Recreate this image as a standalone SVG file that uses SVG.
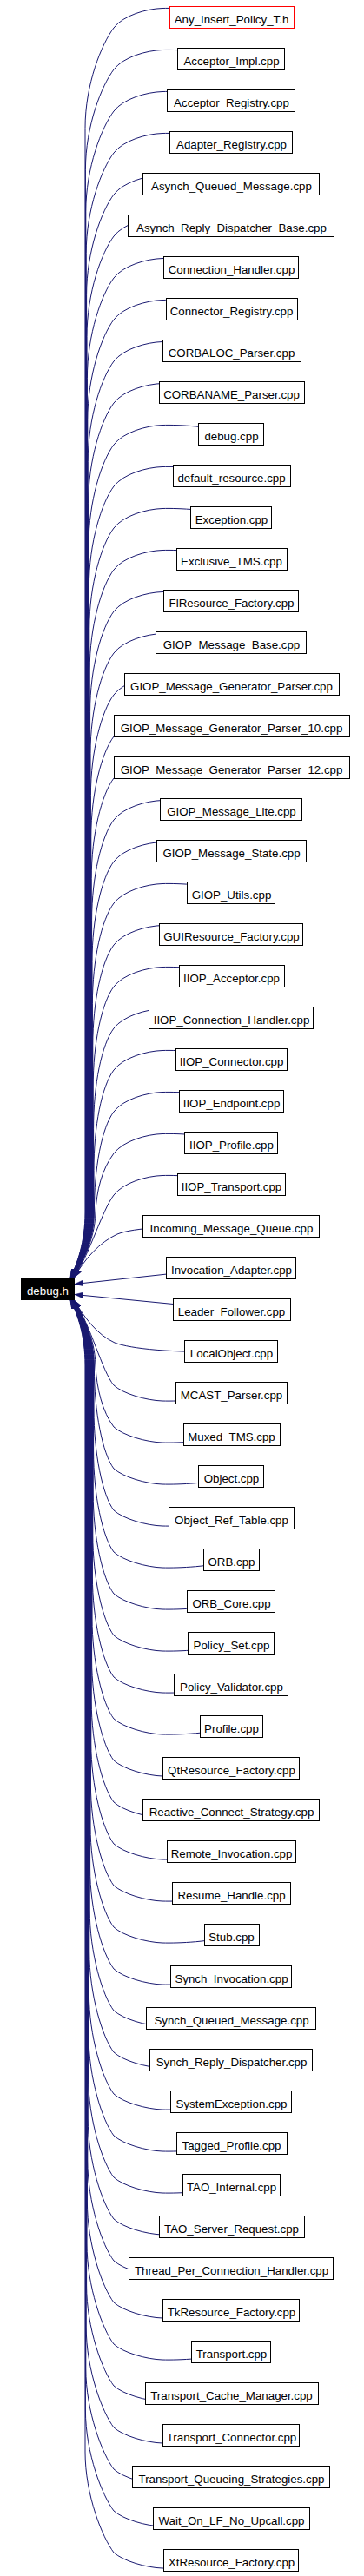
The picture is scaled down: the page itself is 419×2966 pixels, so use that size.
<svg xmlns="http://www.w3.org/2000/svg" width="419" height="2966" viewBox="0 0 419 2966">
<defs>
<style>
.e path{fill:none;stroke:#191970;stroke-width:1;marker-end:url(#ah)}
.n rect{fill:#fff;stroke:#000;stroke-width:1}
.n text{font-family:"Liberation Sans",Arial,Helvetica,sans-serif;font-size:13.3px;text-anchor:middle;fill:#000}
.n.red rect{stroke:#f00}
.n.main rect{fill:#000}
.n.main text{fill:#fff}
</style>
<marker id="ah" viewBox="0 0 10 7" refX="10" refY="3.5" markerWidth="10" markerHeight="7" markerUnits="userSpaceOnUse" orient="auto">
<path d="M0,0L10,3.5L0,7z" fill="#191970" stroke="#191970" stroke-width="0.5"/>
</marker>
</defs>
<rect width="419" height="2966" fill="#fff"/>
<g id="edges" class="e">
<path d="M266.5,20c-21.5,-9.5 -61.5,-11 -79.5,-10.5c-18,0.5 -45,8 -56,22.5c-14,18.5 -33,65 -33,115.5V1396C98,1430 89,1455 81,1471"/>
<path d="M266.5,68c-21.5,-9.5 -61.5,-11 -79.5,-10.5c-18,0.5 -45,8 -56,22.5c-14,18.5 -32.6,65 -32.6,115.5V1396C98.4,1430 89.2,1455 81.2,1471"/>
<path d="M266.5,116c-21.5,-9.5 -61.5,-11 -79.5,-10.5c-18,0.5 -45,8 -56,22.5c-14,18.5 -32.2,65 -32.2,115.5V1396C98.8,1430 89.3,1455 81.3,1471"/>
<path d="M266.5,164c-21.5,-9.5 -61.5,-11 -79.5,-10.5c-18,0.5 -45,8 -56,22.5c-14,18.5 -31.8,65 -31.8,115.5V1396C99.2,1430 89.5,1455 81.5,1471"/>
<path d="M266.5,212c-21.5,-9.5 -61.5,-11 -79.5,-10.5c-18,0.5 -45,8 -56,22.5c-14,18.5 -31.4,65 -31.4,115.5V1396C99.6,1430 89.6,1455 81.6,1471"/>
<path d="M266.5,260c-21.5,-9.5 -61.5,-11 -79.5,-10.5c-18,0.5 -45,8 -56,22.5c-14,18.5 -31,65 -31,115.5V1396C100,1430 89.8,1455 81.8,1471"/>
<path d="M266.5,308c-21.5,-9.5 -61.5,-11 -79.5,-10.5c-18,0.5 -45,8 -56,22.5c-14,18.5 -30.6,65 -30.6,115.5V1396C100.4,1430 89.9,1455 81.9,1471"/>
<path d="M266.5,356c-21.5,-9.5 -61.5,-11 -79.5,-10.5c-18,0.5 -45,8 -56,22.5c-14,18.5 -30.2,65 -30.2,115.5V1396C100.8,1430 90.1,1455 82.1,1471"/>
<path d="M266.5,404c-21.5,-9.5 -61.5,-11 -79.5,-10.5c-18,0.5 -45,8 -56,22.5c-14,18.5 -29.8,65 -29.8,115.5V1396C101.2,1430 90.2,1455 82.2,1471"/>
<path d="M266.5,452c-21.5,-9.5 -61.5,-11 -79.5,-10.5c-18,0.5 -45,8 -56,22.5c-14,18.5 -29.4,65 -29.4,115.5V1396C101.6,1430 90.4,1455 82.4,1471"/>
<path d="M266.5,500c-21.5,-9.5 -61.5,-11 -79.5,-10.5c-18,0.5 -45,8 -56,22.5c-14,18.5 -29,65 -29,115.5V1396C102,1430 90.5,1455 82.5,1471"/>
<path d="M266.5,548c-21.5,-9.5 -61.5,-11 -79.5,-10.5c-18,0.5 -45,8 -56,22.5c-14,18.5 -28.6,65 -28.6,115.5V1396C102.4,1430 90.7,1455 82.7,1471"/>
<path d="M266.5,596c-21.5,-9.5 -61.5,-11 -79.5,-10.5c-18,0.5 -45,8 -56,22.5c-14,18.5 -28.2,65 -28.2,115.5V1396C102.8,1430 90.8,1455 82.8,1471"/>
<path d="M266.5,644c-21.5,-9.5 -61.5,-11 -79.5,-10.5c-18,0.5 -45,8 -56,22.5c-14,18.5 -27.8,65 -27.8,115.5V1396C103.2,1430 91,1455 83,1471"/>
<path d="M266.5,692c-21.5,-9.5 -61.5,-11 -79.5,-10.5c-18,0.5 -45,8 -56,22.5c-14,18.5 -27.4,65 -27.4,115.5V1396C103.6,1430 91.1,1455 83.1,1471"/>
<path d="M266.5,740c-21.5,-9.5 -61.5,-11 -79.5,-10.5c-18,0.5 -45,8 -56,22.5c-14,18.5 -27,65 -27,115.5V1396C104,1430 91.3,1455 83.3,1471"/>
<path d="M266.5,788c-21.5,-9.5 -61.5,-11 -79.5,-10.5c-18,0.5 -45,8 -56,22.5c-14,18.5 -26.6,65 -26.6,115.5V1396C104.4,1430 91.4,1455 83.4,1471"/>
<path d="M266.5,836c-21.5,-9.5 -61.5,-11 -79.5,-10.5c-18,0.5 -45,8 -56,22.5c-14,18.5 -26.2,65 -26.2,115.5V1396C104.8,1430 91.6,1455 83.6,1471"/>
<path d="M266.5,884c-21.5,-9.5 -61.5,-11 -79.5,-10.5c-18,0.5 -45,8 -56,22.5c-14,18.5 -25.8,65 -25.8,115.5V1396C105.2,1430 91.7,1455 83.7,1471"/>
<path d="M266.5,932c-21.5,-9.5 -61.5,-11 -79.5,-10.5c-18,0.5 -45,8 -56,22.5c-14,18.5 -25.4,65 -25.4,115.5V1396C105.6,1430 91.9,1455 83.9,1471"/>
<path d="M266.5,980c-21.5,-9.5 -61.5,-11 -79.5,-10.5c-18,0.5 -45,8 -56,22.5c-14,18.5 -25,65 -25,115.5V1396C106,1430 92,1455 84,1471"/>
<path d="M266.5,1028c-21.5,-9.5 -61.5,-11 -79.5,-10.5c-18,0.5 -45,8 -56,22.5c-14,18.5 -24.6,65 -24.6,115.5V1396C106.4,1430 92.2,1455 84.2,1471"/>
<path d="M266.5,1076c-21.5,-9.5 -61.5,-11 -79.5,-10.5c-18,0.5 -45,8 -56,22.5c-14,18.5 -24.2,65 -24.2,115.5V1396C106.8,1430 92.3,1455 84.3,1471"/>
<path d="M266.5,1124c-21.5,-9.5 -61.5,-11 -79.5,-10.5c-18,0.5 -45,8 -56,22.5c-14,18.5 -23.8,65 -23.8,115.5V1396C107.2,1430 92.5,1455 84.5,1471"/>
<path d="M266.5,1172c-21.5,-9.5 -61.5,-11 -79.5,-10.5c-18,0.5 -45,8 -56,22.5c-14,18.5 -23.4,65 -23.4,115.5V1396C107.6,1430 92.6,1455 84.6,1471"/>
<path d="M266.5,1220c-21.5,-9.5 -61.5,-11 -79.5,-10.5c-18,0.5 -45,8 -56,22.5c-14,18.5 -23,65 -23,115.5V1396C108,1430 92.8,1455 84.8,1471"/>
<path d="M266.5,1268c-21.5,-9.5 -61.5,-11 -79.5,-10.5c-18,0.5 -45,8 -56,22.5c-14,18.5 -22.6,65 -22.6,115.5V1396C108.4,1430 92.9,1455 84.9,1471"/>
<path d="M266.5,1316c-21.5,-9.5 -61.5,-11 -79.5,-10.5c-18,0.5 -45,8 -56,22.5C117,1346.5 111,1372 110,1396C109,1430 93,1455 85,1471"/>
<path d="M266.5,1364c-21.5,-9.5 -61.5,-11 -79.5,-10.5c-18,0.5 -45,8 -56,22.5C117,1394.5 105,1440 85.2,1471"/>
<path d="M266.5,1412C200,1412 155,1413 135,1421C115,1430 97,1450 85.4,1471"/>
<path d="M266.5,1459L86,1478.5"/>
<path d="M266.5,1508L86,1490.5"/>
<path d="M266.5,1556C200,1558 150,1553 132,1546C112,1537 97,1517 85.4,1497"/>
<path d="M266.5,1604c-21.5,8 -61.5,9.5 -79.5,9c-18,-0.5 -45,-8 -56,-18C117,1578 105,1527 85.2,1497"/>
<path d="M266.5,1652c-21.5,8 -61.5,9.5 -79.5,9c-18,-0.5 -45,-8 -56,-18C118,1626 111,1598 110,1572C109,1537 93,1512 85,1497"/>
<path d="M266.5,1700c-21.5,8 -61.5,9.5 -79.5,9c-18,-0.5 -45,-8 -56,-18c-13,-17 -22.6,-66 -22.6,-116V1572C108.4,1537 92.9,1512 84.9,1497"/>
<path d="M266.5,1748c-21.5,8 -61.5,9.5 -79.5,9c-18,-0.5 -45,-8 -56,-18c-13,-17 -23,-66 -23,-116V1572C108,1537 92.8,1512 84.8,1497"/>
<path d="M266.5,1796c-21.5,8 -61.5,9.5 -79.5,9c-18,-0.5 -45,-8 -56,-18c-13,-17 -23.4,-66 -23.4,-116V1572C107.6,1537 92.6,1512 84.6,1497"/>
<path d="M266.5,1844c-21.5,8 -61.5,9.5 -79.5,9c-18,-0.5 -45,-8 -56,-18c-13,-17 -23.8,-66 -23.8,-116V1572C107.2,1537 92.5,1512 84.5,1497"/>
<path d="M266.5,1892c-21.5,8 -61.5,9.5 -79.5,9c-18,-0.5 -45,-8 -56,-18c-13,-17 -24.2,-66 -24.2,-116V1572C106.8,1537 92.3,1512 84.3,1497"/>
<path d="M266.5,1940c-21.5,8 -61.5,9.5 -79.5,9c-18,-0.5 -45,-8 -56,-18c-13,-17 -24.6,-66 -24.6,-116V1572C106.4,1537 92.2,1512 84.2,1497"/>
<path d="M266.5,1988c-21.5,8 -61.5,9.5 -79.5,9c-18,-0.5 -45,-8 -56,-18c-13,-17 -25,-66 -25,-116V1572C106,1537 92,1512 84,1497"/>
<path d="M266.5,2036c-21.5,8 -61.5,9.5 -79.5,9c-18,-0.5 -45,-8 -56,-18c-13,-17 -25.4,-66 -25.4,-116V1572C105.6,1537 91.9,1512 83.9,1497"/>
<path d="M266.5,2084c-21.5,8 -61.5,9.5 -79.5,9c-18,-0.5 -45,-8 -56,-18c-13,-17 -25.8,-66 -25.8,-116V1572C105.2,1537 91.7,1512 83.7,1497"/>
<path d="M266.5,2132c-21.5,8 -61.5,9.5 -79.5,9c-18,-0.5 -45,-8 -56,-18c-13,-17 -26.2,-66 -26.2,-116V1572C104.8,1537 91.6,1512 83.6,1497"/>
<path d="M266.5,2180c-21.5,8 -61.5,9.5 -79.5,9c-18,-0.5 -45,-8 -56,-18c-13,-17 -26.6,-66 -26.6,-116V1572C104.4,1537 91.4,1512 83.4,1497"/>
<path d="M266.5,2228c-21.5,8 -61.5,9.5 -79.5,9c-18,-0.5 -45,-8 -56,-18c-13,-17 -27,-66 -27,-116V1572C104,1537 91.3,1512 83.3,1497"/>
<path d="M266.5,2276c-21.5,8 -61.5,9.5 -79.5,9c-18,-0.5 -45,-8 -56,-18c-13,-17 -27.4,-66 -27.4,-116V1572C103.6,1537 91.1,1512 83.1,1497"/>
<path d="M266.5,2324c-21.5,8 -61.5,9.5 -79.5,9c-18,-0.5 -45,-8 -56,-18c-13,-17 -27.8,-66 -27.8,-116V1572C103.2,1537 91,1512 83,1497"/>
<path d="M266.5,2372c-21.5,8 -61.5,9.5 -79.5,9c-18,-0.5 -45,-8 -56,-18c-13,-17 -28.2,-66 -28.2,-116V1572C102.8,1537 90.8,1512 82.8,1497"/>
<path d="M266.5,2420c-21.5,8 -61.5,9.5 -79.5,9c-18,-0.5 -45,-8 -56,-18c-13,-17 -28.6,-66 -28.6,-116V1572C102.4,1537 90.7,1512 82.7,1497"/>
<path d="M266.5,2468c-21.5,8 -61.5,9.5 -79.5,9c-18,-0.5 -45,-8 -56,-18c-13,-17 -29,-66 -29,-116V1572C102,1537 90.5,1512 82.5,1497"/>
<path d="M266.5,2516c-21.5,8 -61.5,9.5 -79.5,9c-18,-0.5 -45,-8 -56,-18c-13,-17 -29.4,-66 -29.4,-116V1572C101.6,1537 90.4,1512 82.4,1497"/>
<path d="M266.5,2564c-21.5,8 -61.5,9.5 -79.5,9c-18,-0.5 -45,-8 -56,-18c-13,-17 -29.8,-66 -29.8,-116V1572C101.2,1537 90.2,1512 82.2,1497"/>
<path d="M266.5,2612c-21.5,8 -61.5,9.5 -79.5,9c-18,-0.5 -45,-8 -56,-18c-13,-17 -30.2,-66 -30.2,-116V1572C100.8,1537 90.1,1512 82.1,1497"/>
<path d="M266.5,2660c-21.5,8 -61.5,9.5 -79.5,9c-18,-0.5 -45,-8 -56,-18c-13,-17 -30.6,-66 -30.6,-116V1572C100.4,1537 89.9,1512 81.9,1497"/>
<path d="M266.5,2708c-21.5,8 -61.5,9.5 -79.5,9c-18,-0.5 -45,-8 -56,-18c-13,-17 -31,-66 -31,-116V1572C100,1537 89.8,1512 81.8,1497"/>
<path d="M266.5,2756c-21.5,8 -61.5,9.5 -79.5,9c-18,-0.5 -45,-8 -56,-18c-13,-17 -31.4,-66 -31.4,-116V1572C99.6,1537 89.6,1512 81.6,1497"/>
<path d="M266.5,2804c-21.5,8 -61.5,9.5 -79.5,9c-18,-0.5 -45,-8 -56,-18c-13,-17 -31.8,-66 -31.8,-116V1572C99.2,1537 89.5,1512 81.5,1497"/>
<path d="M266.5,2852c-21.5,8 -61.5,9.5 -79.5,9c-18,-0.5 -45,-8 -56,-18c-13,-17 -32.2,-66 -32.2,-116V1572C98.8,1537 89.3,1512 81.3,1497"/>
<path d="M266.5,2900c-21.5,8 -61.5,9.5 -79.5,9c-18,-0.5 -45,-8 -56,-18c-13,-17 -32.6,-66 -32.6,-116V1572C98.4,1537 89.2,1512 81.2,1497"/>
<path d="M266.5,2948c-21.5,8 -61.5,9.5 -79.5,9c-18,-0.5 -45,-8 -56,-18c-13,-17 -33,-66 -33,-116V1572C98,1537 89,1512 81,1497"/>
</g>
<g id="nodes">
<g id="debug_h" class="n main"><rect x="24.5" y="1471.5" width="61" height="25"/><text x="55" y="1490.5">debug.h</text></g>
<g id="n0" class="n red"><rect x="195.5" y="7.5" width="143" height="25"/><text x="266.5" y="26.5">Any_Insert_Policy_T.h</text></g>
<g id="n1" class="n"><rect x="204.5" y="55.5" width="123" height="25"/><text x="266.5" y="74.5">Acceptor_Impl.cpp</text></g>
<g id="n2" class="n"><rect x="192.5" y="103.5" width="147" height="25"/><text x="266.5" y="122.5">Acceptor_Registry.cpp</text></g>
<g id="n3" class="n"><rect x="195.5" y="151.5" width="141" height="25"/><text x="266.5" y="170.5">Adapter_Registry.cpp</text></g>
<g id="n4" class="n"><rect x="164.5" y="199.5" width="203" height="25"/><text x="266.5" y="218.5">Asynch_Queued_Message.cpp</text></g>
<g id="n5" class="n"><rect x="147.5" y="247.5" width="237" height="25"/><text x="266.5" y="266.5">Asynch_Reply_Dispatcher_Base.cpp</text></g>
<g id="n6" class="n"><rect x="188.5" y="295.5" width="155" height="25"/><text x="266.5" y="314.5">Connection_Handler.cpp</text></g>
<g id="n7" class="n"><rect x="191.5" y="343.5" width="151" height="25"/><text x="266.5" y="362.5">Connector_Registry.cpp</text></g>
<g id="n8" class="n"><rect x="187.5" y="391.5" width="159" height="25"/><text x="266.5" y="410.5">CORBALOC_Parser.cpp</text></g>
<g id="n9" class="n"><rect x="183.5" y="439.5" width="167" height="25"/><text x="266.5" y="458.5">CORBANAME_Parser.cpp</text></g>
<g id="n10" class="n"><rect x="228.5" y="487.5" width="75" height="25"/><text x="266.5" y="506.5">debug.cpp</text></g>
<g id="n11" class="n"><rect x="199.5" y="535.5" width="135" height="25"/><text x="266.5" y="554.5">default_resource.cpp</text></g>
<g id="n12" class="n"><rect x="219.5" y="583.5" width="93" height="25"/><text x="266.5" y="602.5">Exception.cpp</text></g>
<g id="n13" class="n"><rect x="203.5" y="631.5" width="127" height="25"/><text x="266.5" y="650.5">Exclusive_TMS.cpp</text></g>
<g id="n14" class="n"><rect x="188.5" y="679.5" width="155" height="25"/><text x="266.5" y="698.5">FlResource_Factory.cpp</text></g>
<g id="n15" class="n"><rect x="179.5" y="727.5" width="173" height="25"/><text x="266.5" y="746.5">GIOP_Message_Base.cpp</text></g>
<g id="n16" class="n"><rect x="143.5" y="775.5" width="247" height="25"/><text x="266.5" y="794.5">GIOP_Message_Generator_Parser.cpp</text></g>
<g id="n17" class="n"><rect x="131.5" y="823.5" width="271" height="25"/><text x="266.5" y="842.5">GIOP_Message_Generator_Parser_10.cpp</text></g>
<g id="n18" class="n"><rect x="131.5" y="871.5" width="271" height="25"/><text x="266.5" y="890.5">GIOP_Message_Generator_Parser_12.cpp</text></g>
<g id="n19" class="n"><rect x="184.5" y="919.5" width="163" height="25"/><text x="266.5" y="938.5">GIOP_Message_Lite.cpp</text></g>
<g id="n20" class="n"><rect x="180.5" y="967.5" width="172" height="25"/><text x="266.5" y="986.5">GIOP_Message_State.cpp</text></g>
<g id="n21" class="n"><rect x="215.5" y="1015.5" width="101" height="25"/><text x="266.5" y="1034.5">GIOP_Utils.cpp</text></g>
<g id="n22" class="n"><rect x="183.5" y="1063.5" width="165" height="25"/><text x="266.5" y="1082.5">GUIResource_Factory.cpp</text></g>
<g id="n23" class="n"><rect x="206.5" y="1111.5" width="121" height="25"/><text x="266.5" y="1130.5">IIOP_Acceptor.cpp</text></g>
<g id="n24" class="n"><rect x="171.5" y="1159.5" width="189" height="25"/><text x="266.5" y="1178.5">IIOP_Connection_Handler.cpp</text></g>
<g id="n25" class="n"><rect x="202.5" y="1207.5" width="128" height="25"/><text x="266.5" y="1226.5">IIOP_Connector.cpp</text></g>
<g id="n26" class="n"><rect x="206.5" y="1255.5" width="120" height="25"/><text x="266.5" y="1274.5">IIOP_Endpoint.cpp</text></g>
<g id="n27" class="n"><rect x="212.5" y="1303.5" width="107" height="25"/><text x="266.5" y="1322.5">IIOP_Profile.cpp</text></g>
<g id="n28" class="n"><rect x="204.5" y="1351.5" width="124" height="25"/><text x="266.5" y="1370.5">IIOP_Transport.cpp</text></g>
<g id="n29" class="n"><rect x="164.5" y="1399.5" width="203" height="25"/><text x="266.5" y="1418.5">Incoming_Message_Queue.cpp</text></g>
<g id="n30" class="n"><rect x="191.5" y="1447.5" width="149" height="25"/><text x="266.5" y="1466.5">Invocation_Adapter.cpp</text></g>
<g id="n31" class="n"><rect x="199.5" y="1495.5" width="135" height="25"/><text x="266.5" y="1514.5">Leader_Follower.cpp</text></g>
<g id="n32" class="n"><rect x="212.5" y="1543.5" width="107" height="25"/><text x="266.5" y="1562.5">LocalObject.cpp</text></g>
<g id="n33" class="n"><rect x="202.5" y="1591.5" width="128" height="25"/><text x="266.5" y="1610.5">MCAST_Parser.cpp</text></g>
<g id="n34" class="n"><rect x="211.5" y="1639.5" width="111" height="25"/><text x="266.5" y="1658.5">Muxed_TMS.cpp</text></g>
<g id="n35" class="n"><rect x="228.5" y="1687.5" width="75" height="25"/><text x="266.5" y="1706.5">Object.cpp</text></g>
<g id="n36" class="n"><rect x="194.5" y="1735.5" width="144" height="25"/><text x="266.5" y="1754.5">Object_Ref_Table.cpp</text></g>
<g id="n37" class="n"><rect x="234.5" y="1783.5" width="64" height="25"/><text x="266.5" y="1802.5">ORB.cpp</text></g>
<g id="n38" class="n"><rect x="215.5" y="1831.5" width="101" height="25"/><text x="266.5" y="1850.5">ORB_Core.cpp</text></g>
<g id="n39" class="n"><rect x="216.5" y="1879.5" width="99" height="25"/><text x="266.5" y="1898.5">Policy_Set.cpp</text></g>
<g id="n40" class="n"><rect x="200.5" y="1927.5" width="131" height="25"/><text x="266.5" y="1946.5">Policy_Validator.cpp</text></g>
<g id="n41" class="n"><rect x="230.5" y="1975.5" width="72" height="25"/><text x="266.5" y="1994.5">Profile.cpp</text></g>
<g id="n42" class="n"><rect x="187.5" y="2023.5" width="157" height="25"/><text x="266.5" y="2042.5">QtResource_Factory.cpp</text></g>
<g id="n43" class="n"><rect x="164.5" y="2071.5" width="203" height="25"/><text x="266.5" y="2090.5">Reactive_Connect_Strategy.cpp</text></g>
<g id="n44" class="n"><rect x="192.5" y="2119.5" width="148" height="25"/><text x="266.5" y="2138.5">Remote_Invocation.cpp</text></g>
<g id="n45" class="n"><rect x="198.5" y="2167.5" width="136" height="25"/><text x="266.5" y="2186.5">Resume_Handle.cpp</text></g>
<g id="n46" class="n"><rect x="235.5" y="2215.5" width="63" height="25"/><text x="266.5" y="2234.5">Stub.cpp</text></g>
<g id="n47" class="n"><rect x="196.5" y="2263.5" width="139" height="25"/><text x="266.5" y="2282.5">Synch_Invocation.cpp</text></g>
<g id="n48" class="n"><rect x="168.5" y="2311.5" width="195" height="25"/><text x="266.5" y="2330.5">Synch_Queued_Message.cpp</text></g>
<g id="n49" class="n"><rect x="172.5" y="2359.5" width="187" height="25"/><text x="266.5" y="2378.5">Synch_Reply_Dispatcher.cpp</text></g>
<g id="n50" class="n"><rect x="196.5" y="2407.5" width="139" height="25"/><text x="266.5" y="2426.5">SystemException.cpp</text></g>
<g id="n51" class="n"><rect x="203.5" y="2455.5" width="127" height="25"/><text x="266.5" y="2474.5">Tagged_Profile.cpp</text></g>
<g id="n52" class="n"><rect x="210.5" y="2503.5" width="112" height="25"/><text x="266.5" y="2522.5">TAO_Internal.cpp</text></g>
<g id="n53" class="n"><rect x="183.5" y="2551.5" width="167" height="25"/><text x="266.5" y="2570.5">TAO_Server_Request.cpp</text></g>
<g id="n54" class="n"><rect x="148.5" y="2599.5" width="235" height="25"/><text x="266.5" y="2618.5">Thread_Per_Connection_Handler.cpp</text></g>
<g id="n55" class="n"><rect x="187.5" y="2647.5" width="157" height="25"/><text x="266.5" y="2666.5">TkResource_Factory.cpp</text></g>
<g id="n56" class="n"><rect x="220.5" y="2695.5" width="91" height="25"/><text x="266.5" y="2714.5">Transport.cpp</text></g>
<g id="n57" class="n"><rect x="167.5" y="2743.5" width="199" height="25"/><text x="266.5" y="2762.5">Transport_Cache_Manager.cpp</text></g>
<g id="n58" class="n"><rect x="187.5" y="2791.5" width="157" height="25"/><text x="266.5" y="2810.5">Transport_Connector.cpp</text></g>
<g id="n59" class="n"><rect x="152.5" y="2839.5" width="227" height="25"/><text x="266.5" y="2858.5">Transport_Queueing_Strategies.cpp</text></g>
<g id="n60" class="n"><rect x="176.5" y="2887.5" width="180" height="25"/><text x="266.5" y="2906.5">Wait_On_LF_No_Upcall.cpp</text></g>
<g id="n61" class="n"><rect x="188.5" y="2935.5" width="155" height="25"/><text x="266.5" y="2954.5">XtResource_Factory.cpp</text></g>
</g>
</svg>
